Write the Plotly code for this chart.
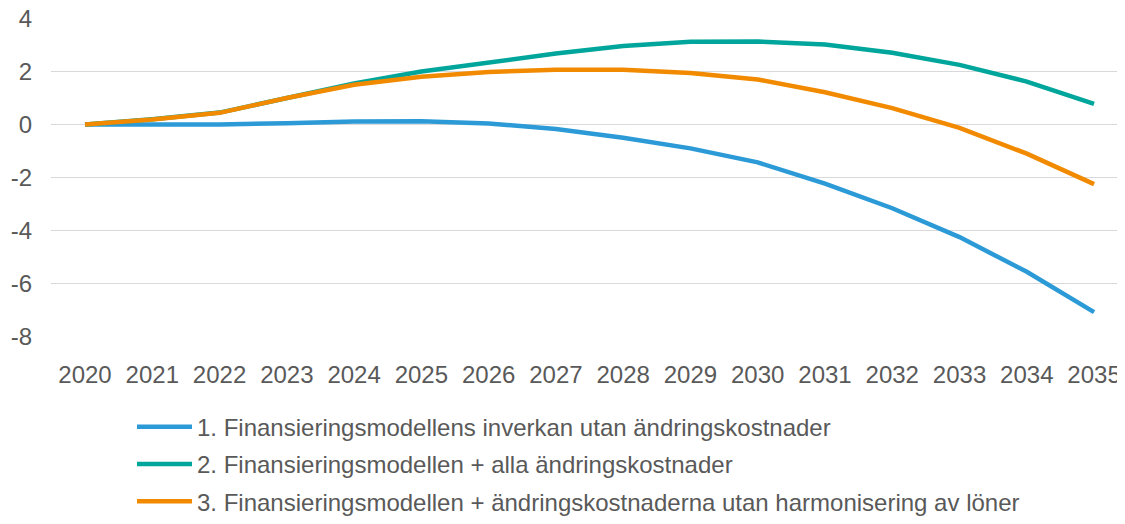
import plotly.graph_objects as go

years = list(range(2020, 2036))
tick_labels = [str(y) for y in years]
y_ticks = [-8, -6, -4, -2, 0, 2, 4]
y_tick_labels = ["-8", "-6", "-4", "-2", "0", "2", "4"]

names = [
    "1. Finansieringsmodellens inverkan utan ändringskostnader",
    "2. Finansieringsmodellen + alla ändringskostnader",
    "3. Finansieringsmodellen + ändringskostnaderna utan harmonisering av löner",
]
s1 = [0.0, 0.0, 0.0, 0.05, 0.11, 0.12, 0.04, -0.17, -0.5, -0.9, -1.43, -2.23, -3.16, -4.25, -5.56, -7.08]
s2 = [0.0, 0.2, 0.45, 1.02, 1.55, 2.0, 2.35, 2.68, 2.96, 3.12, 3.13, 3.02, 2.71, 2.25, 1.62, 0.78]
s3 = [0.0, 0.19, 0.44, 1.0, 1.5, 1.8, 1.98, 2.07, 2.07, 1.94, 1.7, 1.22, 0.62, -0.13, -1.1, -2.25]
colors = ["#2B9AD6", "#00A69B", "#F28A00"]

fig = go.Figure()
for i, (nm, ys) in enumerate(zip(names, [s1, s2, s3])):
    fig.add_trace(go.Scatter(
        x=years, y=ys, mode="lines", name=nm, legendgroup=f"g{i}",
        line=dict(color=colors[i], width=4.5),
    ))

font_color = "#595959"
# page body has an 8px margin, so the figure is 8px smaller on each axis
fig.update_layout(
    width=1117, height=516,
    margin=dict(l=43, r=0, t=10, b=176),
    paper_bgcolor="white", plot_bgcolor="white",
    font=dict(family="Liberation Sans, Arial, sans-serif", size=24, color=font_color),
    showlegend=True,
    legend=dict(
        orientation="v",
        x=(132 - 51) / 1074, xanchor="left", y=-(418 - 348) / 330, yanchor="top",
        traceorder="grouped", tracegroupgap=3, itemwidth=55,
        font=dict(size=24, color=font_color),
        bgcolor="rgba(0,0,0,0)",
    ),
    xaxis=dict(
        range=[2019.4945, 2035.46], tickmode="array", tickvals=years, ticktext=tick_labels,
        showgrid=False, zeroline=False, showline=False, ticks="",
        ticklabelstandoff=21, tickangle=0, automargin=False,
    ),
    yaxis=dict(
        range=[-8.02, 4.02], tickmode="array", tickvals=y_ticks, ticktext=y_tick_labels,
        showgrid=True, gridcolor="#D9D9D9", gridwidth=1,
        zeroline=False, showline=False, ticks="",
        ticklabelstandoff=18, automargin=False, ticklabeloverflow="allow",
    ),
)

fig.write_html("out.html")
